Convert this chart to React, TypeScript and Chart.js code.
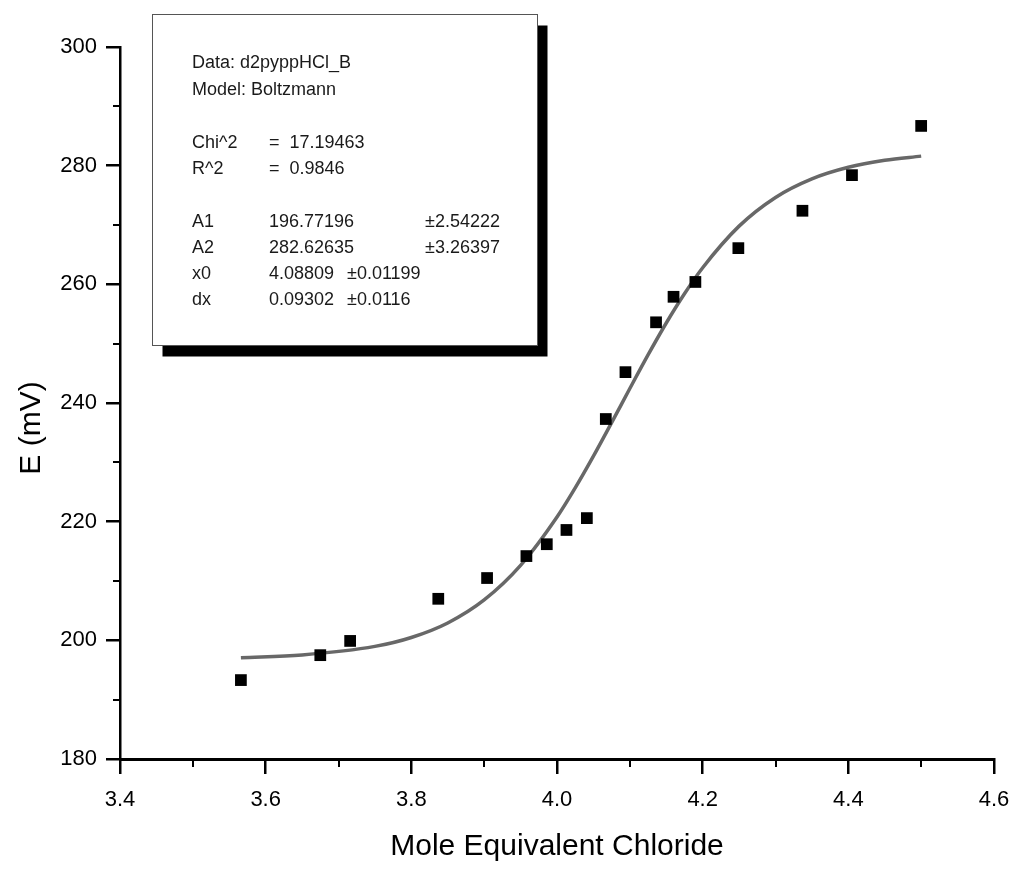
import React, { useEffect, useRef } from "react";
import { Chart, registerables } from "chart.js";

Chart.register(...registerables);

// Measured data points (Mole Equivalent Chloride vs E (mV))
const dataX = [3.566, 3.675, 3.716, 3.837, 3.904, 3.958, 3.986, 4.013, 4.041, 4.067, 4.094, 4.136, 4.16, 4.19, 4.249, 4.337, 4.405, 4.5];
const dataY = [193.3, 197.5, 199.9, 207.0, 210.5, 214.2, 216.2, 218.6, 220.6, 237.3, 245.2, 253.6, 257.9, 260.4, 266.1, 272.4, 278.4, 286.7];

// Fitted curve
const fitX = [3.566, 3.65, 3.75, 3.8, 3.85, 3.9, 3.95, 4.0, 4.025, 4.05, 4.075, 4.1, 4.125, 4.15, 4.175, 4.2, 4.25, 4.3, 4.35, 4.4, 4.45, 4.5];
const fitY = [197.08, 197.54, 198.98, 200.48, 202.93, 206.81, 212.63, 220.77, 225.68, 231.03, 236.68, 242.44, 248.1, 253.48, 258.41, 262.8, 269.81, 274.65, 277.78, 279.73, 280.91, 281.61];

const xTicks = [3.4, 3.6, 3.8, 4.0, 4.2, 4.4, 4.6];
const xMinorTicks = [3.5, 3.7, 3.9, 4.1, 4.3, 4.5];
const yTicks = [180, 200, 220, 240, 260, 280, 300];
const yMinorTicks = [190, 210, 230, 250, 270, 290];

const xTitle = "Mole Equivalent Chloride";
const yTitle = "E (mV)";

const boxHeader = ["Data: d2pyppHCl_B", "Model: Boltzmann"];
const boxStats = [
  ["Chi^2", "=  17.19463"],
  ["R^2", "=  0.9846"],
];
const boxParams = [
  ["A1", "196.77196", "±2.54222"],
  ["A2", "282.62635", "±3.26397"],
  ["x0", "4.08809", "±0.01199"],
  ["dx", "0.09302", "±0.0116"],
];

const FONT = "'Liberation Sans', Arial, Helvetica, sans-serif";

const decorPlugin = {
  id: "decor",
  afterDraw(chart: any) {
    const ctx = chart.ctx as CanvasRenderingContext2D;
    const area = chart.chartArea;
    const xs = chart.scales.x;
    const ys = chart.scales.y;
    ctx.save();
    // minor ticks
    ctx.strokeStyle = "#000";
    ctx.lineWidth = 2;
    ctx.beginPath();
    for (const v of yMinorTicks) {
      const py = Math.round(ys.getPixelForValue(v));
      ctx.moveTo(area.left - 7, py);
      ctx.lineTo(area.left, py);
    }
    for (const v of xMinorTicks) {
      const px = Math.round(xs.getPixelForValue(v));
      ctx.moveTo(px, area.bottom);
      ctx.lineTo(px, area.bottom + 8);
    }
    ctx.stroke();

    // axis titles
    ctx.fillStyle = "#000";
    ctx.font = `30px ${FONT}`;
    ctx.textAlign = "center";
    ctx.textBaseline = "alphabetic";
    ctx.fillText(xTitle, (area.left + area.right) / 2, 855);
    ctx.save();
    ctx.translate(40, 428);
    ctx.rotate(-Math.PI / 2);
    ctx.fillText(yTitle, 0, 0);
    ctx.restore();

    // stats box with shadow
    const bx = 152.5, by = 14.5, bw = 385, bh = 331;
    ctx.fillStyle = "#000";
    ctx.fillRect(bx + 10, by + 11, bw, bh);
    ctx.fillStyle = "#fff";
    ctx.fillRect(bx, by, bw, bh);
    ctx.strokeStyle = "#555";
    ctx.lineWidth = 1;
    ctx.strokeRect(bx, by, bw, bh);

    ctx.fillStyle = "#1a1a1a";
    ctx.font = `18px ${FONT}`;
    ctx.textAlign = "left";
    const c1 = 192, c2 = 269, c3 = 347, c3b = 425;
    ctx.fillText(boxHeader[0], c1, 68);
    ctx.fillText(boxHeader[1], c1, 95);
    const statY = [148, 174];
    boxStats.forEach((r, i) => {
      ctx.fillText(r[0], c1, statY[i]);
      ctx.fillText(r[1], c2, statY[i]);
    });
    const parY = [227, 253, 279, 305];
    boxParams.forEach((r, i) => {
      ctx.fillText(r[0], c1, parY[i]);
      ctx.fillText(r[1], c2, parY[i]);
      ctx.fillText(r[2], i < 2 ? c3b : c3, parY[i]);
    });
    ctx.restore();
  },
};

export default function App() {
  const ref = useRef<HTMLCanvasElement | null>(null);
  useEffect(() => {
    if (!ref.current) return;
    const chart = new Chart(ref.current, {
      type: "scatter",
      data: {
        datasets: [
          {
            label: "fit",
            data: fitX.map((x, i) => ({ x, y: fitY[i] })),
            showLine: true,
            borderColor: "#686868",
            borderWidth: 3.5,
            pointRadius: 0,
            cubicInterpolationMode: "monotone",
            order: 2,
          } as any,
          {
            label: "data",
            data: dataX.map((x, i) => ({ x, y: dataY[i] })),
            pointStyle: "rect",
            pointRadius: 8.3,
            backgroundColor: "#000",
            borderColor: "#000",
            borderWidth: 0,
            order: 1,
          } as any,
        ],
      },
      options: {
        responsive: false,
        animation: false,
        devicePixelRatio: 1,
        layout: { padding: { left: 0, right: 23, top: 47, bottom: 0 } },
        plugins: { legend: { display: false }, tooltip: { enabled: false } },
        scales: {
          x: {
            type: "linear",
            min: 3.4,
            max: 4.6,
            afterBuildTicks: (s: any) => {
              s.ticks = xTicks.map((v) => ({ value: v }));
            },
            afterFit: (s: any) => {
              s.height = 114;
              s.paddingLeft = 0;
              s.paddingRight = 0;
            },
            ticks: {
              color: "#000",
              font: { family: FONT, size: 22 },
              padding: 13,
              maxRotation: 0,
              autoSkip: false,
              callback: (v: any) => Number(v).toFixed(1),
            },
            grid: { drawOnChartArea: false, drawTicks: true, tickLength: 15, color: "#000", lineWidth: 2.5 },
            border: { display: true, color: "#000", width: 3 },
          },
          y: {
            type: "linear",
            min: 180,
            max: 300,
            afterBuildTicks: (s: any) => {
              s.ticks = yTicks.map((v) => ({ value: v }));
            },
            afterFit: (s: any) => {
              s.width = 120;
              s.paddingTop = 0;
              s.paddingBottom = 0;
            },
            ticks: {
              color: "#000",
              font: { family: FONT, size: 22 },
              padding: 9,
              autoSkip: false,
              callback: (v: any) => String(v),
            },
            grid: { drawOnChartArea: false, drawTicks: true, tickLength: 14, color: "#000", lineWidth: 2.5 },
            border: { display: true, color: "#000", width: 2.5 },
          },
        },
      },
      plugins: [decorPlugin],
    });
    return () => chart.destroy();
  }, []);
  return (
    <div style={{ position: "absolute", left: 0, top: 0, width: 1017, height: 873, background: "#fff" }}>
      <canvas ref={ref} width={1017} height={873} style={{ width: 1017, height: 873 }} />
    </div>
  );
}
